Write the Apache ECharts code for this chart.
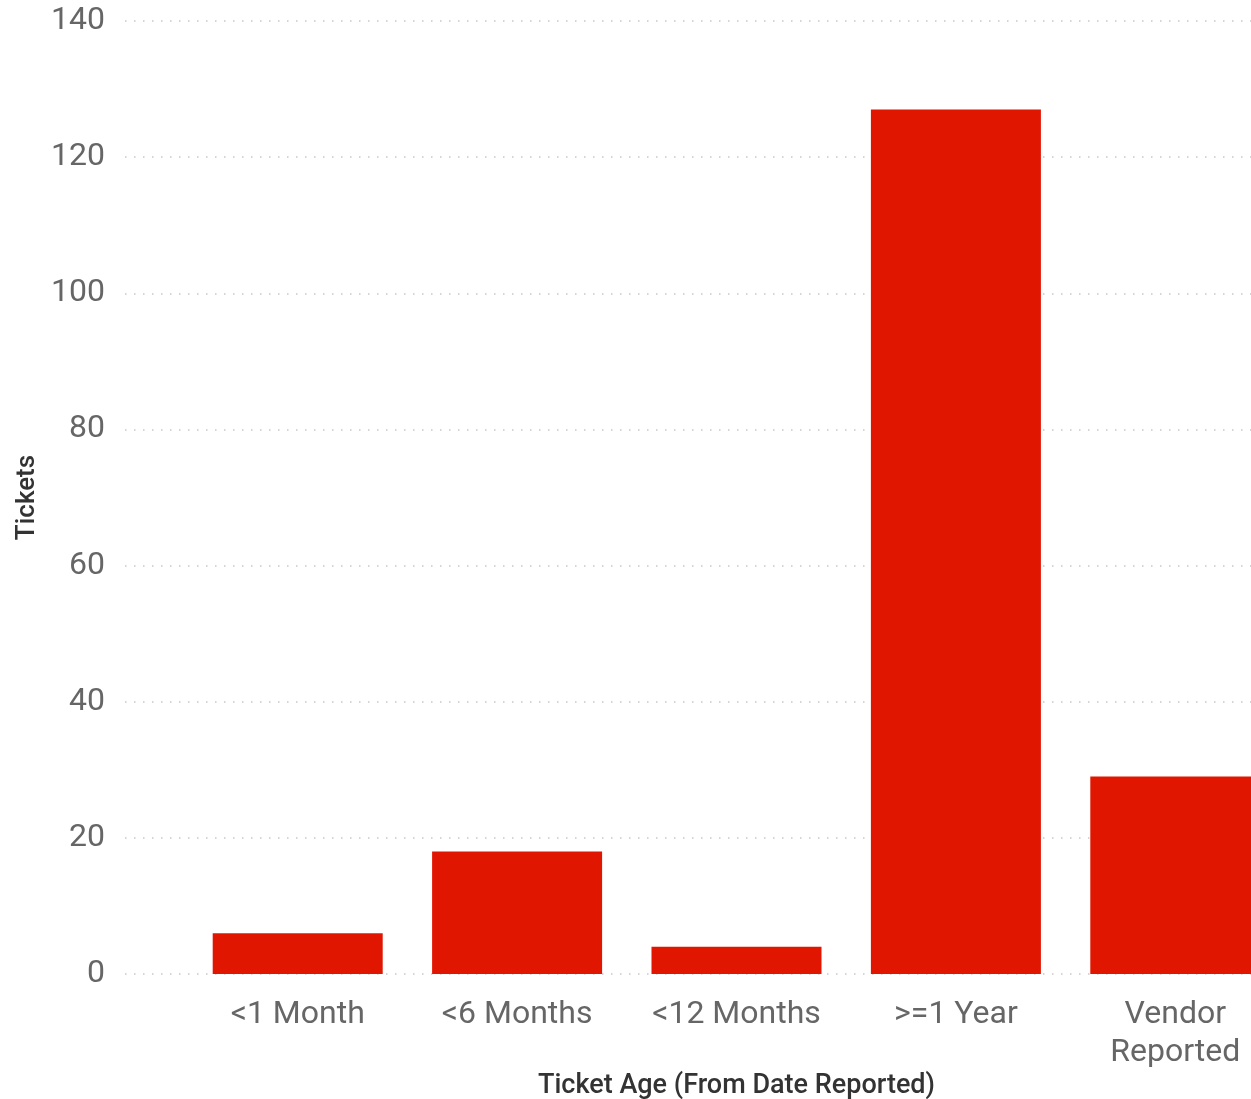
<!DOCTYPE html>
<html>
<head>
<meta charset="utf-8">
<script src="https://cdn.jsdelivr.net/npm/echarts@6/dist/echarts.min.js"></script>
<style>html,body{margin:0;padding:0;background:#fff;}#c{width:1251px;height:1099px;}</style>
</head>
<body>
<div id="c"></div>
<script>
const categories = ['<1 Month', '<6 Months', '<12 Months', '>=1 Year', 'Vendor\nReported'];
const tickets = [6, 18, 4, 127, 29];
const yMin = 0, yMax = 140, yStep = 20;

const chart = echarts.init(document.getElementById('c'));
chart.setOption({
  animation: false,
  backgroundColor: '#ffffff',
  grid: [
    { left: 188, right: -34, top: 21, bottom: 125, containLabel: false, outerBoundsMode: 'none' },
    { left: 125, right: 0, top: 21, bottom: 125, containLabel: false, outerBoundsMode: 'none' }
  ],
  xAxis: [
    {
      type: 'category', gridIndex: 0, data: categories,
      axisLine: { show: false }, axisTick: { show: false },
      axisLabel: { color: '#666666', fontFamily: 'Roboto', fontSize: 32, margin: 22, lineHeight: 38, interval: 0 },
      name: 'Ticket Age (From Date Reported)', nameLocation: 'middle', nameGap: 99, nameMoveOverlap: false,
      nameTextStyle: { color: '#333333', fontFamily: 'Roboto', fontWeight: 500, fontSize: 27 }
    },
    { type: 'value', gridIndex: 1, show: false, min: 0, max: 1 }
  ],
  yAxis: [
    { type: 'value', gridIndex: 0, min: yMin, max: yMax, interval: yStep, show: false, splitLine: { show: false } },
    {
      type: 'value', gridIndex: 1, min: yMin, max: yMax, interval: yStep,
      axisLine: { show: false }, axisTick: { show: false },
      axisLabel: { color: '#666666', fontFamily: 'Roboto', fontSize: 32, margin: 20 },
      splitLine: { show: true, lineStyle: { color: '#c8c8c8', width: 1.5, type: [1.5, 7.5] } },
      name: 'Tickets', nameLocation: 'middle', nameGap: 85, nameMoveOverlap: false,
      nameTextStyle: { color: '#333333', fontFamily: 'Roboto', fontWeight: 500, fontSize: 26 }
    }
  ],
  series: [
    {
      type: 'bar', xAxisIndex: 0, yAxisIndex: 0, data: tickets,
      barWidth: 170, itemStyle: { color: '#e01600' }, z: 5
    }
  ]
});
</script>
</body>
</html>
